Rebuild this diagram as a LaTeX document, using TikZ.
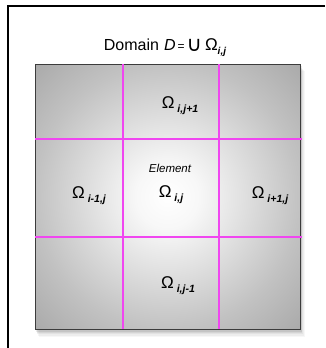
\documentclass[tikz,border=0pt]{standalone}
\usepackage{fontspec}
\setmainfont{Liberation Sans}
\newfontfamily\djv{DejaVu Sans}
\definecolor{gridmag}{RGB}{240,70,240}
\definecolor{boxedge}{RGB}{60,60,60}
\pgfdeclareradialshading{boxshade}{\pgfpoint{0bp}{0bp}}{color(0bp)=(white); color(6bp)=(white!97!black); color(25bp)=(black!24); color(36bp)=(black!34); color(50bp)=(black!34)}
\newcommand{\Om}[1]{{\fontsize{17}{17}\selectfont Ω}\hspace{3pt}\raisebox{-4pt}{\fontsize{10.5}{11}\selectfont\bfseries\itshape #1}}
\tikzset{
  frameline/.style={line width=2.2pt, black},
  gridline/.style={line width=1.4pt, gridmag},
  lbl/.style={inner sep=0pt, anchor=center}
}
\begin{document}
\begin{tikzpicture}[x=1pt,y=-1pt]
\useasboundingbox (0,0) rectangle (325,348);
% frame
\draw[frameline] (8,348) -- (8,6) -- (325,6);
% shadow
\foreach \d/\o in {1/0.10,2/0.08,3/0.06,4/0.05,5/0.04,6/0.03}{
  \fill[black,opacity=\o] (35+\d*0.6,64+\d*1.2) rectangle (300+\d*0.8,329+\d*1.3);
}
% box
\path[shading=boxshade] (35,64) rectangle (300,329);
\draw[boxedge, line width=1pt] (35,64) rectangle (300,329);
% grid
\draw[gridline] (123,64) -- (123,329);
\draw[gridline, line width=1.1pt] (219,64) -- (219,329);
\draw[gridline] (35,139) -- (302,139);
\draw[gridline] (35,237) -- (302,237);
% title
\node[lbl] (title) at (165,48) {\fontsize{16}{18}\selectfont Domain\hspace{5pt}\textit{D}\hspace{2pt}{\fontsize{12}{12}\selectfont =}\hspace{2pt}\raisebox{-0.5pt}{\djv\fontsize{21}{21}\selectfont ∪}\hspace{3pt}{\fontsize{17}{17}\selectfont Ω}\raisebox{-4pt}{\fontsize{10}{11}\selectfont\bfseries\itshape i,j}};
% labels
\node[lbl] (top) at (180,106) {\Om{i,j+1}};
\node[lbl] (left) at (89,196) {\Om{i-1,j}};
\node[lbl] (elem) at (170,168) {\fontsize{11.5}{12}\selectfont\itshape Element};
\node[lbl] (center) at (171,195) {\Om{i,j}};
\node[lbl] (right) at (270,196) {\Om{i+1,j}};
\node[lbl] (bottom) at (178,286) {\Om{i,j-1}};
\end{tikzpicture}
\end{document}
